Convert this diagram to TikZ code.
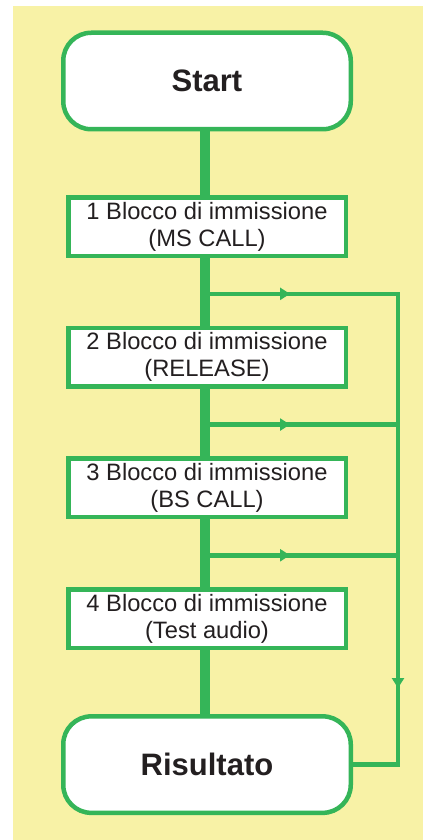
\documentclass[tikz,border=0pt]{standalone}
\usepackage{fontspec}
\setmainfont{Liberation Sans}
\usetikzlibrary{arrows.meta,positioning,calc}
\definecolor{flowgreen}{RGB}{53,181,88}
\definecolor{paper}{RGB}{248,242,166}
\definecolor{ink}{RGB}{35,31,32}

\begin{document}
\begin{tikzpicture}[x=1pt, y=-1pt, >={Triangle[length=10pt,width=12pt]}, node distance=130.7pt]
\tikzstyle{terminal}=[draw=flowgreen,fill=white,line width=4.5pt,rounded corners=28pt,minimum width=287.5pt,minimum height=96.5pt,text=ink,font=\fontsize{31}{36}\selectfont\bfseries]
\tikzstyle{inputbox}=[draw=flowgreen,fill=white,line width=4.5pt,minimum width=277.5pt,minimum height=58.5pt,inner sep=0pt,align=center,text=ink,font=\fontsize{23.7}{27}\selectfont]
\tikzstyle{spine}=[draw=flowgreen,line width=10.5pt]
\tikzstyle{branch}=[draw=flowgreen,line width=4.5pt]

\useasboundingbox (0,0) rectangle (423,840);
\fill[paper] (13,6) rectangle (423,840);

\node[terminal] (start) at (207,81)        {Start};
\node[inputbox] (b1)[below of=start, node distance=145.5pt] {1 Blocco di immissione\\(MS CALL)};
\node[inputbox] (b2)[below of=b1]          {2 Blocco di immissione\\(RELEASE)};
\node[inputbox] (b3)[below of=b2]          {3 Blocco di immissione\\(BS CALL)};
\node[inputbox] (b4)[below of=b3]          {4 Blocco di immissione\\(Test audio)};
\node[terminal] (res)[below of=b4, node distance=146pt] {Risultato};

\coordinate (spinex) at (205,0);
\coordinate (rail)   at (398,0);
\coordinate (tipx)   at (290,0);
\coordinate (tipy)   at (0,688);
\coordinate (j1) at ($(b1)!0.5!(b2)+(0,2)$);
\coordinate (j2) at ($(b2)!0.5!(b3)+(0,2)$);
\coordinate (j3) at ($(b3)!0.5!(b4)+(0,2)$);

\foreach \a/\b in {start/b1,b1/b2,b2/b3,b3/b4,b4/res}
  \path[spine] (\a.south -| spinex) -- (\b.north -| spinex);

\path[branch] (j1) -- (j1 -| rail) -- (res.east -| rail) -- (res.east);
\path[branch] (j2) -- (j2 -| rail);
\path[branch] (j3) -- (j3 -| rail);

\foreach \j in {j1,j2,j3}
  \path[branch,->] (\j) -- (\j -| tipx);
\path[branch,->] (j1 -| rail) -- (rail |- tipy);

\end{tikzpicture}
\end{document}
